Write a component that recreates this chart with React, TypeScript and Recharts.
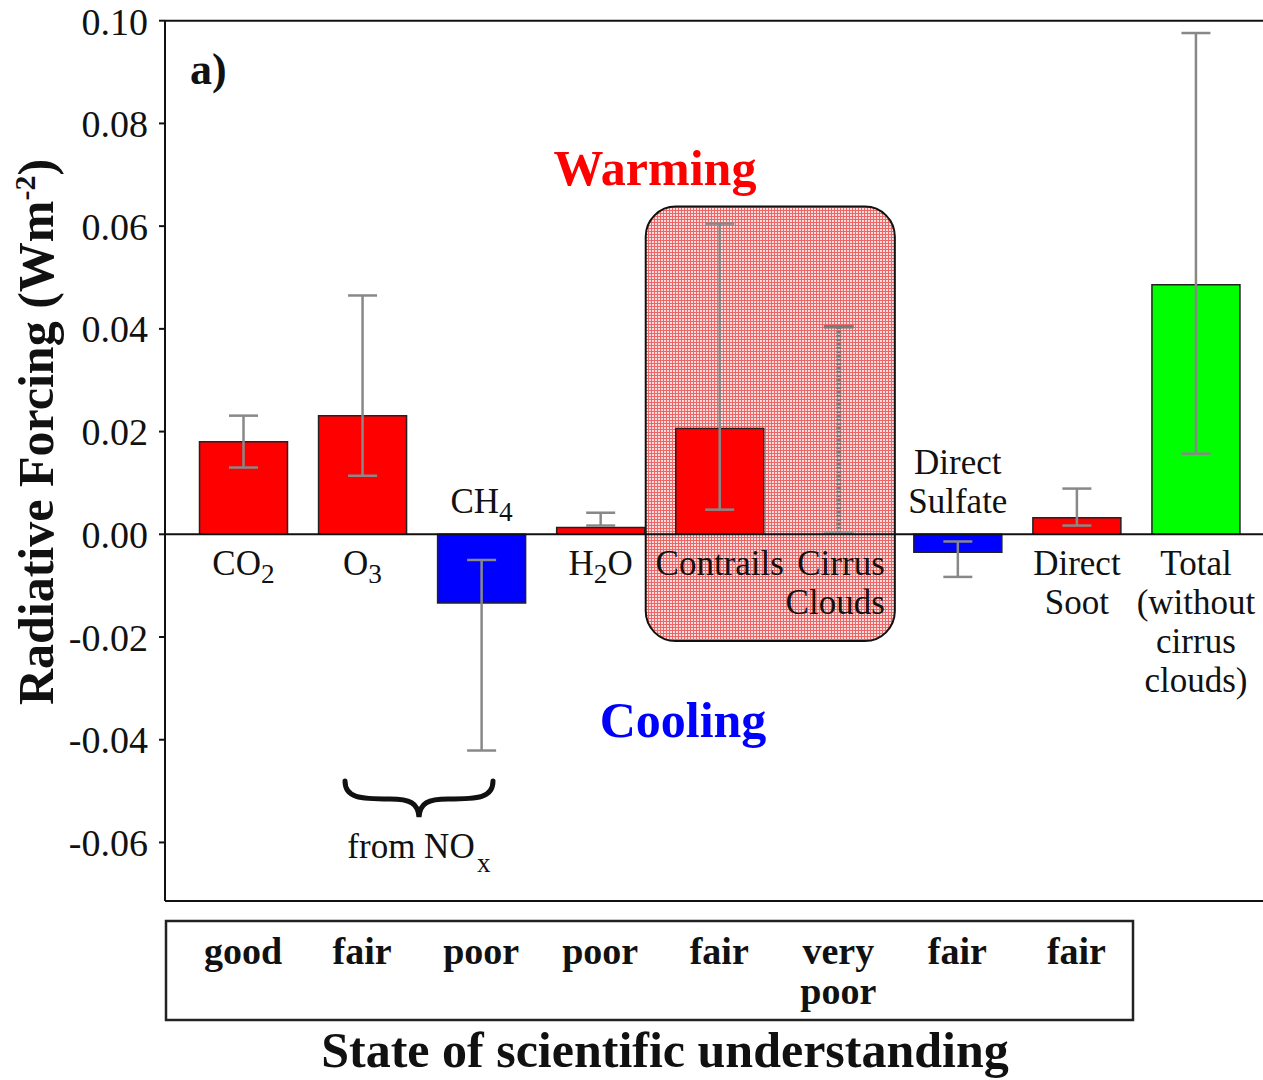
import React from "react";
import {
  Bar,
  BarChart,
  Cell,
  ErrorBar,
  LabelList,
  ReferenceArea,
  ReferenceLine,
  XAxis,
  YAxis,
} from "recharts";

const categories = [
  "CO2",
  "O3",
  "CH4",
  "H2O",
  "Contrails",
  "Cirrus Clouds",
  "Direct Sulfate",
  "Direct Soot",
  "Total",
];
// "_x" marks a subscript character
const categoryLabels = [
  ["CO_2"],
  ["O_3"],
  ["CH_4"],
  ["H_2O"],
  ["Contrails"],
  ["Cirrus", "Clouds"],
  ["Direct", "Sulfate"],
  ["Direct", "Soot"],
  ["Total", "(without", "cirrus", "clouds)"],
];
const forcing = [0.018, 0.0231, -0.0134, 0.0013, 0.0206, 0, -0.0035, 0.0032, 0.0486];
const errLow = [0.013, 0.0114, -0.0421, 0.0017, 0.0048, null, -0.0083, 0.0017, 0.0157];
const errHigh = [0.0231, 0.0465, -0.005, 0.0042, 0.0605, null, -0.0014, 0.0089, 0.0976];
// cirrus clouds: dotted range only, no bar
const cirrusLow = 0;
const cirrusHigh = 0.0404;
const understanding = ["good", "fair", "poor", "poor", "fair", "very poor", "fair", "fair", ""];
const yTicks = [-0.06, -0.04, -0.02, 0, 0.02, 0.04, 0.06, 0.08, 0.1];

const FONT = '"Liberation Serif", "Times New Roman", serif';
const RED = "#ff0000";
const BLUE = "#0000ff";
const GREEN = "#00ff00";
const ERR = "#888888";
const CIRRUS = "Cirrus Clouds";

const data = categories.map((name, i) => {
  const v = forcing[i];
  const lo = errLow[i];
  const hi = errHigh[i];
  const isCirrus = name === CIRRUS;
  return {
    name,
    value: v,
    err: lo == null || hi == null ? undefined : [v - lo, hi - v],
    cirrusRange: isCirrus ? [cirrusLow, cirrusHigh] : null,
  };
});

function barColor(i: number) {
  if (categories[i] === "Total") return GREEN;
  return forcing[i] < 0 ? BLUE : RED;
}

function RichText({ text, x, y, anchor = "middle", size = 35, weight = "normal" }: any) {
  const parts = text.split(/_(.)/);
  const out: any[] = [];
  parts.forEach((p: string, k: number) => {
    if (k % 2 === 1) {
      out.push(
        <tspan key={k} dy={8} fontSize={size * 0.78}>
          {p}
        </tspan>
      );
    } else if (k > 0) {
      out.push(
        <tspan key={k} dy={-8}>
          {p}
        </tspan>
      );
    } else {
      out.push(<tspan key={k}>{p}</tspan>);
    }
  });
  return (
    <text x={x} y={y} textAnchor={anchor} fontSize={size} fontWeight={weight} fontFamily={FONT} fill="#111">
      {out}
    </text>
  );
}

function CategoryLabel(props: any) {
  const vb = props.viewBox ?? props;
  const { x, y, width, height } = vb;
  const name = props.value;
  const index = categories.indexOf(name);
  if (index < 0 || x == null) return null;
  if (name === CIRRUS && !props.fromRange) return null;
  const v = forcing[index];
  const lines = categoryLabels[index];
  const cx = x + width / 2;
  const h = height ?? 0;
  const base = v >= 0 ? Math.max(y, y + h) : Math.min(y, y + h);
  const lh = 39;
  if (v < 0) {
    return (
      <g>
        {lines.map((l, k) => (
          <RichText key={k} text={l} x={cx} y={base - 21 - (lines.length - 1 - k) * lh} />
        ))}
      </g>
    );
  }
  const right = name === CIRRUS;
  return (
    <g>
      {lines.map((l, k) => (
        <RichText
          key={k}
          text={l}
          x={right ? cx + 46 : cx}
          anchor={right ? "end" : "middle"}
          y={base + 41 + k * lh}
        />
      ))}
    </g>
  );
}

function DottedRange(p: any) {
  const { x, y, width, height } = p;
  if (x == null || !height) return null;
  const cx = x + width / 2;
  const top = Math.min(y, y + height);
  const bot = Math.max(y, y + height);
  return (
    <g>
      <line x1={cx} x2={cx} y1={top} y2={bot} stroke="#7a7a7a" strokeWidth={5} strokeDasharray="2.5 1.5" />
      <line x1={cx - 15} x2={cx + 15} y1={top} y2={top} stroke="#7a7a7a" strokeWidth={3.5} />
      <line x1={cx - 15} x2={cx + 15} y1={bot - 1} y2={bot - 1} stroke="#9a9a9a" strokeWidth={3} />
    </g>
  );
}

function UnderstandingTick(props: any) {
  const { x, y, payload } = props;
  const idx = categories.indexOf(payload.value);
  const words = (understanding[idx] ?? "").split(" ").filter(Boolean);
  return (
    <g>
      {words.map((w, k) => (
        <text
          key={k}
          x={x}
          y={y + 55 + k * 40}
          textAnchor="middle"
          fontSize={38}
          fontWeight="bold"
          fontFamily={FONT}
          fill="#111"
        >
          {w}
        </text>
      ))}
    </g>
  );
}

const xPad = { left: 18.5, right: 8 };

export default function App() {
  return (
    <div style={{ position: "absolute", left: 0, top: 0, width: 1263, height: 1080, background: "#fff" }}>
      <BarChart
        width={1263}
        height={1080}
        data={data}
        margin={{ top: 20.7, right: 0, bottom: 0, left: 0 }}
        barSize={88}
      >
        <defs>
          <pattern id="pinkGrid" width="3" height="3" patternUnits="userSpaceOnUse">
            <rect width="3" height="3" fill="#fcdcdc" />
            <path d="M0 0.5 H3 M0.5 0 V3" stroke="#ec6666" strokeWidth="1" />
          </pattern>
        </defs>
        <XAxis
          dataKey="name"
          height={179}
          padding={xPad}
          interval={0}
          tickLine={false}
          axisLine={{ stroke: "#111", strokeWidth: 2 }}
          tick={<UnderstandingTick />}
        />
        <XAxis xAxisId="dup" dataKey="name" hide padding={xPad} />
        <YAxis
          type="number"
          domain={[-0.0714, 0.1]}
          allowDataOverflow
          ticks={yTicks}
          tickFormatter={(v: number) => v.toFixed(2)}
          width={165}
          tickSize={6}
          tickMargin={11}
          axisLine={{ stroke: "#111", strokeWidth: 2 }}
          tickLine={{ stroke: "#111", strokeWidth: 2 }}
          tick={{ fontSize: 38, fill: "#111", fontFamily: FONT }}
        />
        <ReferenceArea
          x1="Contrails"
          x2={CIRRUS}
          y1={-0.0208}
          y2={0.0638}
          shape={(p: any) => (
            <rect
              x={p.x - 14}
              y={p.y}
              width={p.width + 11}
              height={p.height}
              rx={30}
              ry={30}
              fill="url(#pinkGrid)"
              stroke="#111"
              strokeWidth={2}
            />
          )}
        />
        <ReferenceLine y={0.1} stroke="#111" strokeWidth={2} />
        <Bar dataKey="value" stroke="#222" strokeWidth={1.5} isAnimationActive={false}>
          {data.map((d, i) => (
            <Cell key={d.name} fill={barColor(i)} />
          ))}
          <ErrorBar dataKey="err" width={14.5} stroke={ERR} strokeWidth={2.5} direction="y" />
          <LabelList dataKey="name" content={<CategoryLabel />} />
        </Bar>
        <Bar
          xAxisId="dup"
          dataKey="cirrusRange"
          barSize={88}
          shape={<DottedRange />}
          isAnimationActive={false}
        >
          <LabelList dataKey="name" content={<CategoryLabel fromRange />} />
        </Bar>
        <ReferenceLine y={0} stroke="#111" strokeWidth={2} />
      </BarChart>

      <svg
        width={1263}
        height={1080}
        style={{ position: "absolute", left: 0, top: 0, pointerEvents: "none" }}
        fontFamily={FONT}
      >
        <text x={190} y={84} fontSize={44} fontWeight="bold" fill="#111">
          a)
        </text>
        <text x={655} y={185} fontSize={50} fontWeight="bold" fill={RED} textAnchor="middle">
          Warming
        </text>
        <text x={683} y={737} fontSize={50} fontWeight="bold" fill={BLUE} textAnchor="middle">
          Cooling
        </text>
        <text
          transform="translate(53,432) rotate(-90)"
          textAnchor="middle"
          fontSize={50}
          fontWeight="bold"
          fill="#111"
        >
          Radiative Forcing (Wm
          <tspan fontSize={30} dy={-18}>
            -2
          </tspan>
          <tspan dy={18}>)</tspan>
        </text>
        <path
          d="M345 781 C345 798 360 799 390 799 C410 799 418 803 419 817 C420 803 428 799 448 799 C478 799 493 798 493 781"
          fill="none"
          stroke="#111"
          strokeWidth={5}
          strokeLinecap="round"
        />
        <text x={411} y={858} fontSize={35} fill="#111" textAnchor="middle">
          from NO
        </text>
        <text x={477} y={872} fontSize={27} fill="#111">
          x
        </text>
        <rect x={166} y={921} width={967} height={99} fill="none" stroke="#222" strokeWidth={2.5} />
        <text x={665} y={1067} fontSize={50} fontWeight="bold" fill="#111" textAnchor="middle">
          State of scientific understanding
        </text>
      </svg>
    </div>
  );
}
